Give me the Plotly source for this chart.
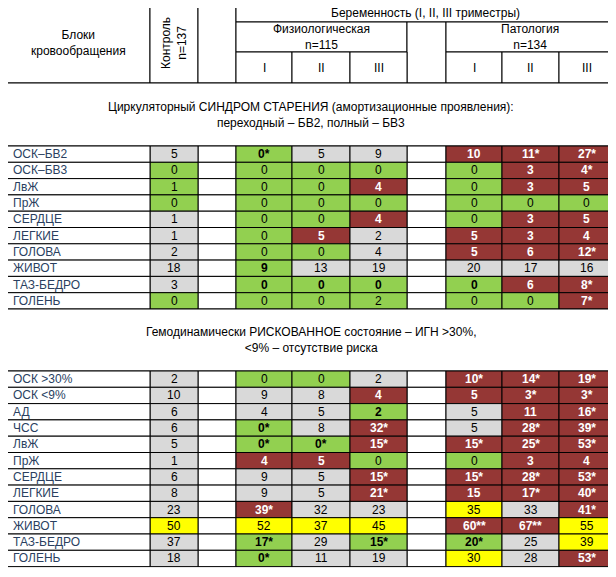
import plotly.graph_objects as go

# ---- data ----
section1_title = "Циркуляторный СИНДРОМ СТАРЕНИЯ (амортизационные проявления):<br>переходный – БВ2, полный – БВ3"
section1_rows = ["ОСК–БВ2", "ОСК–БВ3", "ЛвЖ", "ПрЖ", "СЕРДЦЕ", "ЛЕГКИЕ", "ГОЛОВА", "ЖИВОТ", "ТАЗ-БЕДРО", "ГОЛЕНЬ"]
section1_vals = [
    ["5", "0*", "5", "9", "10", "11*", "27*"],
    ["0", "0", "0", "0", "0", "3", "4*"],
    ["1", "0", "0", "4", "0", "3", "5"],
    ["0", "0", "0", "0", "0", "0", "0"],
    ["1", "0", "0", "4", "0", "3", "5"],
    ["1", "0", "5", "2", "5", "3", "4"],
    ["2", "0", "0", "4", "5", "6", "12*"],
    ["18", "9", "13", "19", "20", "17", "16"],
    ["3", "0", "0", "0", "0", "6", "8*"],
    ["0", "0", "0", "2", "0", "0", "7*"],
]
# w = grey, g = green, G = green bold, r = red, y = yellow
section1_cls = [
    "wGwwrrr", "gggggrr", "gggrgrr", "ggggggg", "wggrgrr",
    "wgrwrrr", "wggwrrr", "wGwwwww", "wGGGGrr", "ggggggr",
]

section2_title = "Гемодинамически РИСКОВАННОЕ состояние – ИГН >30%,<br><9% – отсутствие риска"
section2_rows = ["ОСК >30%", "ОСК <9%", "АД", "ЧСС", "ЛвЖ", "ПрЖ", "СЕРДЦЕ", "ЛЕГКИЕ", "ГОЛОВА", "ЖИВОТ", "ТАЗ-БЕДРО", "ГОЛЕНЬ"]
section2_vals = [
    ["2", "0", "0", "2", "10*", "14*", "19*"],
    ["10", "9", "8", "4", "5", "3*", "3*"],
    ["6", "4", "5", "2", "5", "11", "16*"],
    ["6", "0*", "8", "32*", "5", "28*", "39*"],
    ["5", "0*", "0*", "15*", "15*", "25*", "53*"],
    ["1", "4", "5", "0", "0", "3", "4"],
    ["6", "9", "5", "15*", "15*", "28*", "53*"],
    ["8", "9", "5", "21*", "15", "17*", "40*"],
    ["23", "39*", "32", "23", "35", "33", "41*"],
    ["50", "52", "37", "45", "60**", "67**", "55"],
    ["37", "17*", "29", "15*", "20*", "25", "39"],
    ["18", "0*", "11", "19", "30", "28", "53*"],
]
section2_cls = [
    "wggwrrr", "wwwrrrr", "wwwGwrr", "wGwrwrr", "wGGrrrr", "wrrggrr",
    "wwwrrrr", "wwwrrrr", "wrwwywr", "yyyyrry", "wGwGGwy", "wGwwywr",
]

header_top = "Беременность (I, II, III триместры)"
header_phys = "Физиологическая<br>n=115"
header_path = "Патология<br>n=134"
header_names = "Блоки<br>кровообращения"
header_ctrl = "Контроль<br>n=137"
trimesters = ["I", "II", "III"]

# ---- layout geometry ----
X = [7, 150, 198, 236, 292, 350, 407, 446, 502, 559, 614]
val_cols = [(1, 2), (3, 4), (4, 5), (5, 6), (7, 8), (8, 9), (9, 10)]
H0, H1, H2, H3 = 3, 22, 52, 83
COLORS = {"w": "#D9D9D9", "g": "#92D050", "G": "#92D050", "r": "#953735", "y": "#FFFF00"}
FONT = "Liberation Sans, Arial, sans-serif"

shapes, annots = [], []


def cell(x0, x1, y0, y1, fill="white", text=None, color="black", bold=False, size=12, angle=0):
    shapes.append(dict(type="rect", x0=x0, x1=x1, y0=y0, y1=y1, xref="x", yref="y",
                       fillcolor=fill, line=dict(color="black", width=1), layer="above"))
    if text is not None:
        t = "<b>%s</b>" % text if bold else text
        annots.append(dict(x=(x0 + x1) / 2, y=(y0 + y1) / 2, xref="x", yref="y", text=t,
                           showarrow=False, textangle=angle,
                           font=dict(family=FONT, size=size, color=color)))


# header
cell(X[0], X[1], H0, H3, text=header_names)
cell(X[1], X[2], H0, H3, text=header_ctrl, angle=-90)
cell(X[2], X[3], H0, H3)
cell(X[3], X[10], H0, H1, text=header_top)
cell(X[3], X[6], H1, H2, text=header_phys)
cell(X[6], X[7], H1, H3)
cell(X[7], X[10], H1, H2, text=header_path)
for i, t in enumerate(trimesters):
    cell(X[3 + i], X[4 + i], H2, H3, text=t)
    cell(X[7 + i], X[8 + i], H2, H3, text=t)


def section(y_top, y_rows, row_h, title, names, vals, cls):
    cell(X[0], X[10], y_top, y_rows, text=title)
    for r in range(len(names)):
        y0 = y_rows + r * row_h
        y1 = y0 + row_h
        cell(X[2], X[3], y0, y1)
        cell(X[6], X[7], y0, y1)
        for c, (a, b) in enumerate(val_cols):
            k = cls[r][c]
            cell(X[a], X[b], y0, y1, fill=COLORS[k], text=vals[r][c],
                 color="white" if k == "r" else "black", bold=k in "rG")
    # name column drawn last
    for r, name in enumerate(names):
        y0 = y_rows + r * row_h
        y1 = y0 + row_h
        cell(X[0], X[1], y0, y1, fill="white")
        annots.append(dict(x=X[0] + 4, y=(y0 + y1) / 2, xref="x", yref="y", text=name,
                           xanchor="left", showarrow=False, font=dict(family=FONT, size=12)))
    return y_rows + len(names) * row_h


end1 = section(H3, 146, 16.3, section1_title, section1_rows, section1_vals, section1_cls)
section(end1, 371, 16.3, section2_title, section2_rows, section2_vals, section2_cls)

fig = go.Figure()
fig.update_layout(width=608, height=569, margin=dict(l=0, r=0, t=0, b=0),
                  plot_bgcolor="white", paper_bgcolor="white",
                  xaxis=dict(range=[8, 616], visible=False, fixedrange=True),
                  yaxis=dict(range=[577, 8], visible=False, fixedrange=True),
                  shapes=shapes, annotations=annots, showlegend=False)
fig.write_html("out.html")
